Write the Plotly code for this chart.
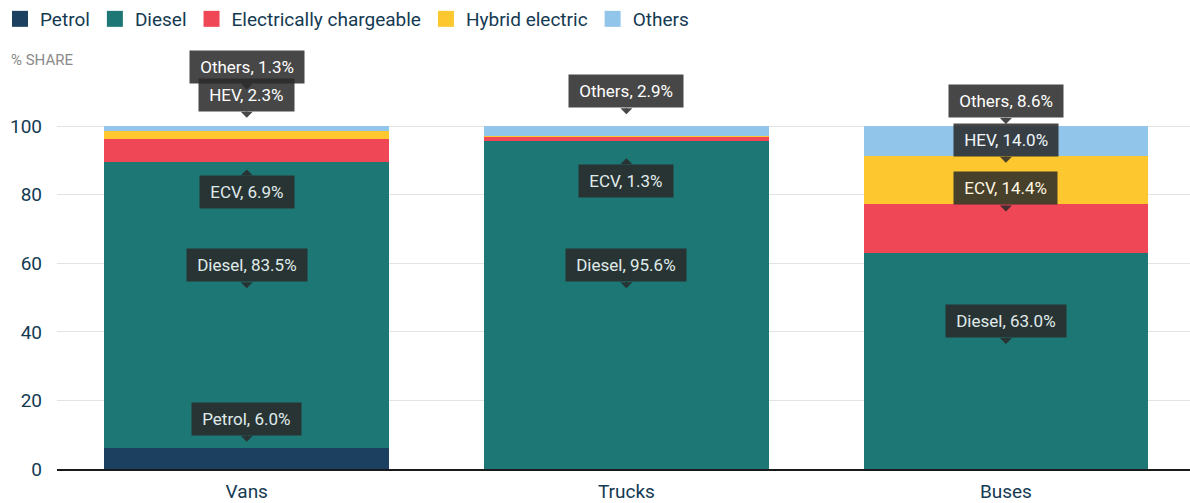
import plotly.graph_objects as go

categories = ["Vans", "Trucks", "Buses"]
series_names = ["Petrol", "Diesel", "Electrically chargeable", "Hybrid electric", "Others"]
short_names = ["Petrol", "Diesel", "ECV", "HEV", "Others"]
petrol = [6.0, 0.0, 0.0]
diesel = [83.5, 95.6, 63.0]
ecv = [6.9, 1.3, 14.4]
hev = [2.3, 0.2, 14.0]
others = [1.3, 2.9, 8.6]
y_ticks = [0, 20, 40, 60, 80, 100]

colors = ["#1c4060", "#1d7775", "#ef4756", "#fcc72f", "#91c5e9"]
values = [petrol, diesel, ecv, hev, others]

# labels: (category index, series index, box position "above"/"below", extra px shift)
labels = [
    (0, 0, "above", 0), (0, 1, "above", 0), (0, 2, "below", 0), (0, 4, "above", 22), (0, 3, "above", 0),
    (1, 1, "above", 0), (1, 2, "below", 0), (1, 4, "above", 0),
    (2, 1, "above", 0), (2, 2, "above", 0), (2, 3, "above", 0), (2, 4, "above", 0),
]

fig = go.Figure()
for name, vals, col in zip(series_names, values, colors):
    fig.add_trace(go.Bar(x=categories, y=vals, name=name, marker=dict(color=col, line=dict(width=0)),
                         width=0.75, hoverinfo="skip", legendgroup=name, showlegend=False))
    # legend entry with a larger square swatch
    fig.add_trace(go.Scatter(x=[None], y=[None], mode="markers", name=name, legendgroup=name,
                             marker=dict(symbol="square", size=16, color=col), hoverinfo="skip"))

NB = "\u00a0"
for ci, si, pos, extra in labels:
    base = sum(values[k][ci] for k in range(si))
    mid = base + values[si][ci] / 2
    txt = f"{NB}{short_names[si]}, {values[si][ci]:.1f}%{NB}"
    if pos == "above":
        ys, ay = 17 + extra, -23
    else:
        ys, ay = -19, 23
    fig.add_annotation(x=categories[ci], y=mid, text=txt, showarrow=True, ax=0, ay=ay,
                       axref="pixel", ayref="pixel", yshift=ys,
                       arrowhead=1, arrowsize=2, arrowwidth=1, arrowcolor="#2a2a2a",
                       bgcolor="#2a2a2a", borderpad=6, opacity=0.86,
                       font=dict(family="Roboto", size=17, color="#ffffff"))

fig.add_annotation(text="% SHARE", xref="paper", yref="paper", x=0, y=1, xanchor="left", yanchor="middle",
                   xshift=-48, yshift=32, showarrow=False,
                   font=dict(family="Roboto", size=15, color="#8a8a8a"))

fig.update_layout(
    width=1190, height=503,
    margin=dict(l=57, r=0, t=92, b=34, autoexpand=False),
    barmode="stack", bargap=0.25,
    plot_bgcolor="white", paper_bgcolor="white",
    font=dict(family="Roboto", color="#143a52"),
    showlegend=True,
    legend=dict(orientation="h", x=0, xref="container", xanchor="left", y=1.0, yref="container", yanchor="top",
                font=dict(family="Roboto", size=19, color="#143a52"), traceorder="normal",
                itemclick=False, itemdoubleclick=False),
    xaxis=dict(range=[-0.5, 2.485], showgrid=False, showline=True, linecolor="#1a1a1a", linewidth=2,
               ticks="", ticklabelstandoff=4, tickfont=dict(family="Roboto", size=19, color="#143a52"),
               fixedrange=True),
    yaxis=dict(range=[0, 110], tickvals=y_ticks, showgrid=True, gridcolor="#e3e3e3", gridwidth=1,
               zeroline=False, ticks="", ticklabelstandoff=14,
               tickfont=dict(family="Roboto", size=19, color="#143a52"), fixedrange=True),
)

fig.write_html("out.html", config={"displayModeBar": False},
               post_script="document.body.style.margin='0px';")
